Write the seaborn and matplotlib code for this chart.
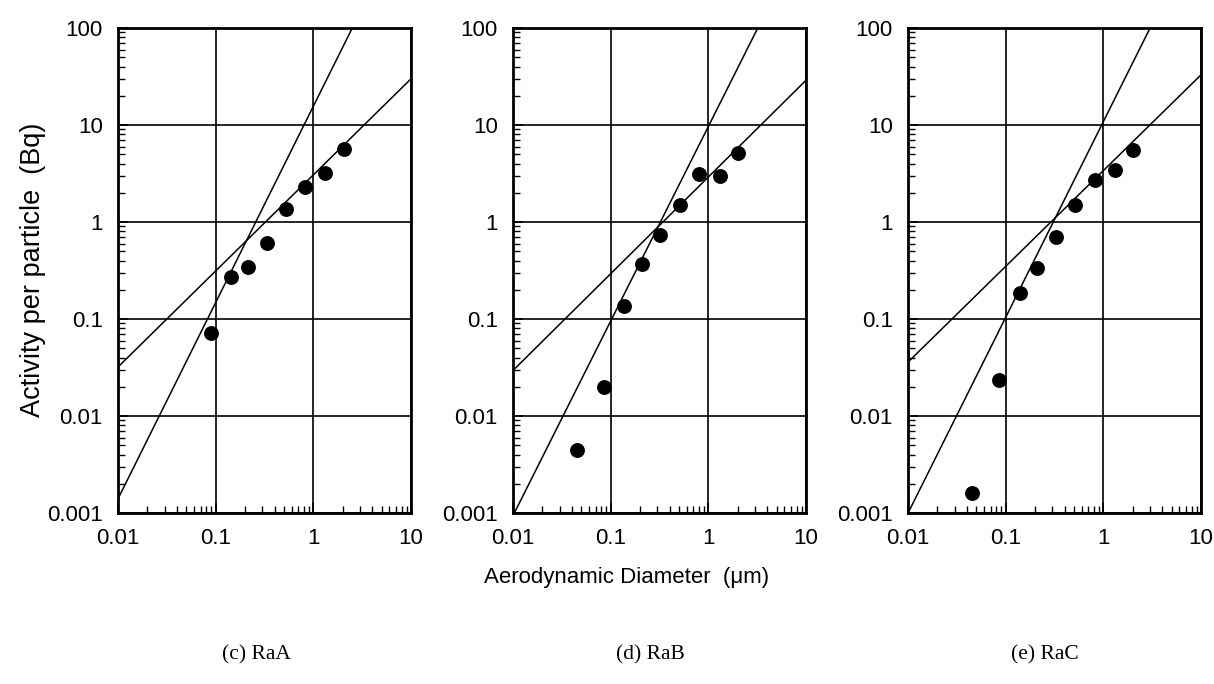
import matplotlib
matplotlib.use("Agg")
import matplotlib.pyplot as plt
import seaborn as sns
import pandas as pd
import numpy as np
from matplotlib.ticker import LogLocator, NullFormatter, FixedLocator, FixedFormatter

sns.set_style("white")
plt.rcParams['font.family'] = ['Liberation Sans', 'DejaVu Sans']
plt.rcParams['text.color'] = 'black'

panel_titles = ['(c) RaA', '(d) RaB', '(e) RaC']

# measured activity per particle vs aerodynamic diameter
raa_d = [0.089, 0.142, 0.216, 0.333, 0.525, 0.82, 1.31, 2.06]
raa_act = [0.071, 0.27, 0.34, 0.61, 1.35, 2.3, 3.2, 5.6]
rab_d = [0.0455, 0.086, 0.136, 0.209, 0.32, 0.506, 0.80, 1.30, 2.01]
rab_act = [0.0045, 0.020, 0.136, 0.365, 0.73, 1.51, 3.1, 3.0, 5.1]
rac_d = [0.045, 0.085, 0.14, 0.209, 0.325, 0.51, 0.81, 1.32, 2.01]
rac_act = [0.0016, 0.0237, 0.187, 0.338, 0.70, 1.51, 2.7, 3.4, 5.5]

# fitted lines: end points (x, y)
raa_shallow_x = [0.01, 10]
raa_shallow_y = [0.032, 30]
raa_steep_x = [0.01, 2.5]
raa_steep_y = [0.0014, 100]
rab_shallow_x = [0.01, 10]
rab_shallow_y = [0.0295, 29]
rab_steep_x = [0.01, 3.2]
rab_steep_y = [0.00094, 100]
rac_shallow_x = [0.01, 10]
rac_shallow_y = [0.036, 33]
rac_steep_x = [0.01, 3.0]
rac_steep_y = [0.001, 100]

points = [(raa_d, raa_act), (rab_d, rab_act), (rac_d, rac_act)]
fits = [
    [(raa_shallow_x, raa_shallow_y), (raa_steep_x, raa_steep_y)],
    [(rab_shallow_x, rab_shallow_y), (rab_steep_x, rab_steep_y)],
    [(rac_shallow_x, rac_shallow_y), (rac_steep_x, rac_steep_y)],
]

x_ticks = [0.01, 0.1, 1, 10]
x_labels = ['0.01', '0.1', '1', '10']
y_ticks = [0.001, 0.01, 0.1, 1, 10, 100]
y_labels = ['0.001', '0.01', '0.1', '1', '10', '100']

fig = plt.figure(figsize=(12.14, 6.84), dpi=100)
lefts = [0.0972, 0.4226, 0.748]
title_x = [256 / 1214, 650 / 1214, 1045 / 1214]

for i in range(3):
    ax = fig.add_axes([lefts[i], 0.25, 0.2414, 0.709])
    ax.set_xscale('log')
    ax.set_yscale('log')
    ax.set_xlim(0.01, 10)
    ax.set_ylim(0.001, 100)

    for fx, fy in fits[i]:
        line_df = pd.DataFrame({'d': fx, 'a': fy})
        sns.lineplot(data=line_df, x='d', y='a', ax=ax, color='black',
                     linewidth=1.1, estimator=None, sort=False, zorder=3)

    pts = pd.DataFrame({'d': points[i][0], 'a': points[i][1]})
    sns.scatterplot(data=pts, x='d', y='a', ax=ax, color='black', s=115,
                    edgecolor='black', linewidth=0, zorder=4)

    ax.xaxis.set_major_locator(FixedLocator(x_ticks))
    ax.xaxis.set_major_formatter(FixedFormatter(x_labels))
    ax.yaxis.set_major_locator(FixedLocator(y_ticks))
    ax.yaxis.set_major_formatter(FixedFormatter(y_labels))
    ax.xaxis.set_minor_locator(LogLocator(base=10, subs=np.arange(2, 10), numticks=20))
    ax.yaxis.set_minor_locator(LogLocator(base=10, subs=np.arange(2, 10), numticks=20))
    ax.xaxis.set_minor_formatter(NullFormatter())
    ax.yaxis.set_minor_formatter(NullFormatter())

    ax.tick_params(which='both', bottom=True, left=True, top=False, right=False,
                   direction='in', colors='black')
    ax.tick_params(which='major', length=7, width=1.2, labelsize=16, pad=11)
    ax.tick_params(which='minor', length=5, width=1.0)

    ax.grid(True, which='major', color='black', linewidth=1.2)
    for sp in ax.spines.values():
        sp.set_color('black')
        sp.set_linewidth(2)
    ax.set_xlabel('')
    ax.set_ylabel('')

    fig.text(title_x[i], 0.042, panel_titles[i], ha='center', va='center',
             fontsize=15.5, family=['Liberation Serif', 'DejaVu Serif'])

fig.text(0.027, 0.605, 'Activity per particle  (Bq)', rotation=90,
         ha='center', va='center', fontsize=19.5)
fig.text(0.516, 0.155, 'Aerodynamic Diameter  (\u03bcm)', ha='center',
         va='center', fontsize=16)

fig.savefig('out.png', dpi=100, facecolor='white')
